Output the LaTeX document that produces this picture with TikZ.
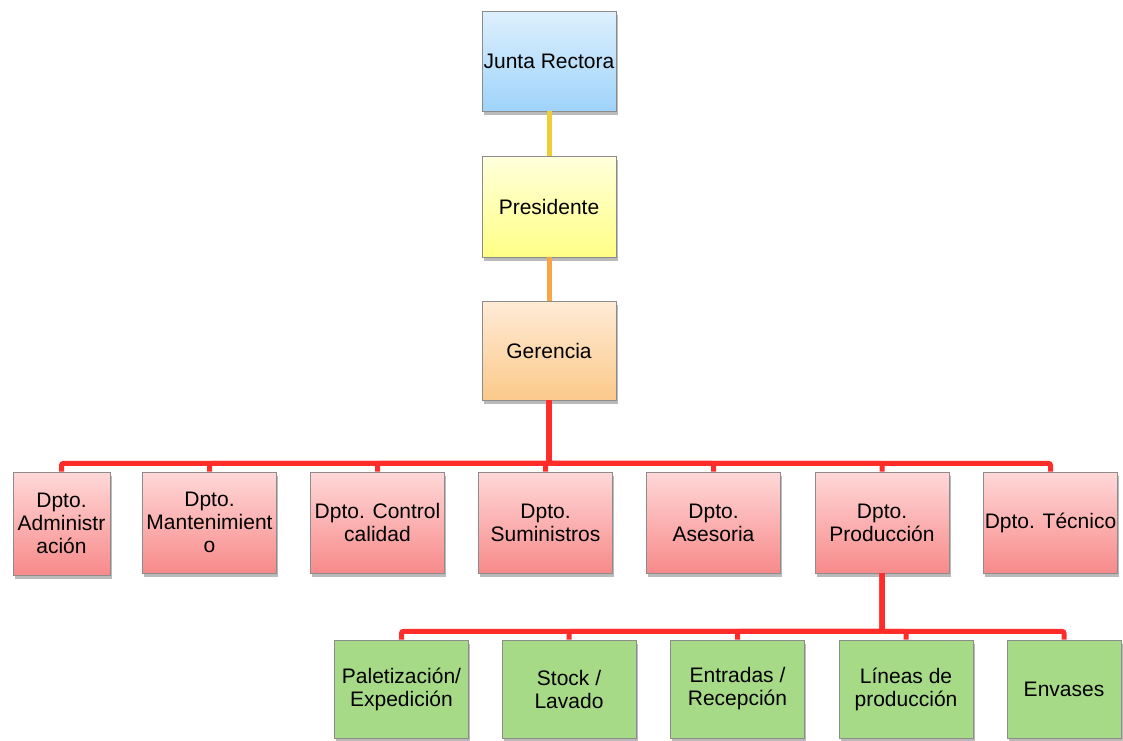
\documentclass[tikz,border=0pt]{standalone}
\usepackage{fontspec}
\setmainfont{Liberation Sans}
\usetikzlibrary{shadows}
\definecolor{bluetop}{HTML}{DDF0FD}
\definecolor{bluebot}{HTML}{9FD3FA}
\definecolor{yeltop}{HTML}{FFFFDC}
\definecolor{yelbot}{HTML}{FFFF85}
\definecolor{ortop}{HTML}{FFEBD6}
\definecolor{orbot}{HTML}{FBC98A}
\definecolor{redtop}{HTML}{FFD8D8}
\definecolor{redbot}{HTML}{F88A8A}
\definecolor{greenfill}{HTML}{A7DA86}
\definecolor{linered}{HTML}{FF2D2A}
\definecolor{lineyel}{HTML}{EFCD35}
\definecolor{lineor}{HTML}{F8A548}
\definecolor{boxborder}{HTML}{8C8C8C}
\tikzset{
  orgbox/.style={draw=boxborder, line width=0.8pt, inner sep=0pt, align=center,
    minimum width=134pt, minimum height=100pt,
    font=\fontsize{21}{23}\selectfont,
    drop shadow={opacity=0.45, fill=black!60, shadow xshift=1.5pt, shadow yshift=-4pt}},
  bluebox/.style={orgbox, shading=axis, top color=bluetop, bottom color=bluebot},
  yelbox/.style={orgbox, shading=axis, top color=yeltop, bottom color=yelbot},
  orbox/.style={orgbox, shading=axis, top color=ortop, bottom color=orbot},
  redbox/.style={orgbox, shading=axis, top color=redtop, bottom color=redbot, minimum height=101pt},
  greenbox/.style={orgbox, fill=greenfill, minimum height=98pt},
  conn/.style={line width=5pt, rounded corners=2pt},
}
\begin{document}
\begin{tikzpicture}[x=1pt, y=-1pt]
\useasboundingbox (0,0) rectangle (1123,740);
% top chain
\node[bluebox] (junta) at (549,61) {Junta Rectora};
\node[yelbox, minimum height=101pt] (pres) at (549,206.5) {Presidente};
\node[orbox, minimum height=99pt] (ger) at (549,350.5) {Gerencia};
% departments
\node[redbox, minimum width=97pt, minimum height=103pt] (d1) at (61.5,523.5) {Dpto.\\Administr\\ación};
\node[redbox] (d2) at (209.5,522.5) {Dpto.\\Mantenimient\\o};
\node[redbox] (d3) at (377.5,522.5) {Dpto. Control\\calidad};
\node[redbox] (d4) at (545.5,522.5) {Dpto.\\Suministros};
\node[redbox] (d5) at (713.5,522.5) {Dpto.\\Asesoria};
\node[redbox] (d6) at (882,522.5) {Dpto.\\Producción};
\node[redbox] (d7) at (1050.5,522.5) {Dpto. Técnico};
% production areas
\node[greenbox] (g1) at (401.5,689) {Paletización/\\Expedición};
\node[greenbox] (g2) at (569,689) {Stock /\\Lavado};
\node[greenbox] (g3) at (737.5,689) {Entradas /\\Recepción};
\node[greenbox] (g4) at (906,689) {Líneas de\\producción};
\node[greenbox, minimum width=114pt] (g5) at (1064,689) {Envases};
% connectors
\draw[conn, lineyel] (junta.south) -- (pres.north);
\draw[conn, lineor] (pres.south) -- (ger.north);
\foreach \d in {d1,d2,d3,d4,d5,d6,d7}
  \draw[conn, linered] (ger.south) -- ++(0,63) -| (\d.north);
\foreach \g in {g1,g2,g3,g4,g5}
  \draw[conn, linered] (d6.south) -- ++(0,58) -| (\g.north);
\end{tikzpicture}
\end{document}
